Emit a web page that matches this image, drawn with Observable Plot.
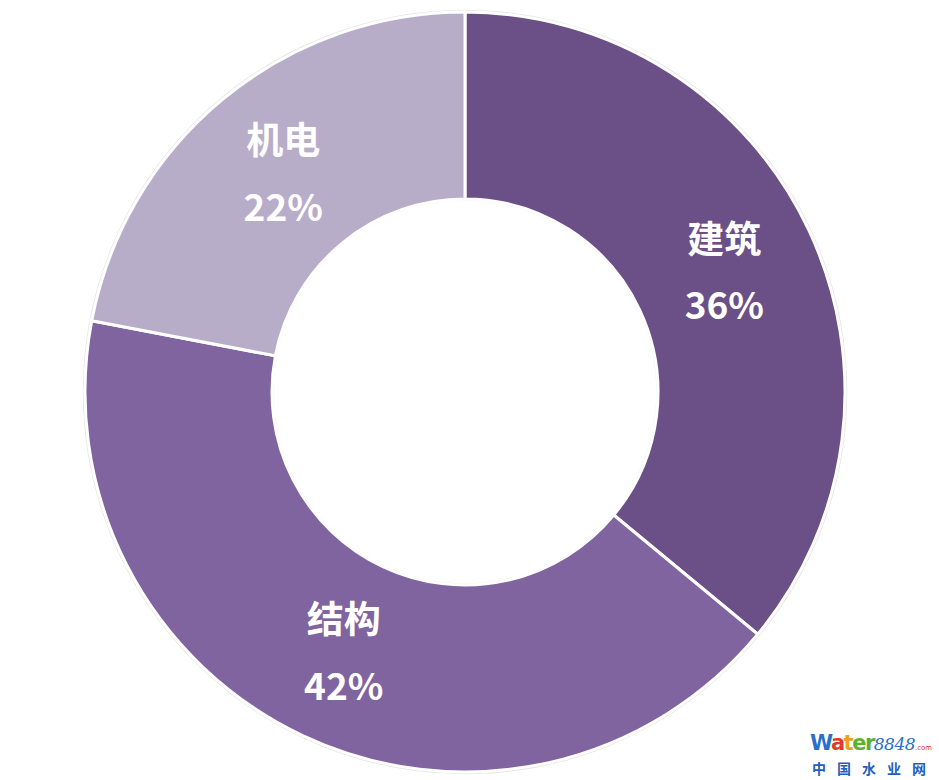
<!DOCTYPE html>
<html><head><meta charset="utf-8">
<script src="https://cdn.jsdelivr.net/npm/d3@7"></script>
<script src="https://cdn.jsdelivr.net/npm/@observablehq/plot@0.6"></script>
<style>
body{margin:0;background:#fff;}
#wrap{position:relative;width:939px;height:780px;}
#wm{position:absolute;left:810px;top:732px;font-family:"DejaVu Sans",sans-serif;}
#wm .l1{font-size:21px;font-weight:bold;line-height:22px;letter-spacing:-1.5px;white-space:nowrap}
#wm .n{font-family:"DejaVu Serif",serif;font-style:italic;font-weight:normal;color:#2a6fc9;font-size:17px;letter-spacing:-0.5px}
#wm .c{font-size:7px;color:#e03a2a;font-weight:normal;letter-spacing:0}
#wm .l2{font-family:"Noto Sans CJK SC",sans-serif;font-size:14px;color:#1f5fc0;letter-spacing:11px;line-height:18px;font-weight:bold;margin-left:2px}
</style></head>
<body><div id="wrap"><div id="chart"></div>
<div id="wm"><div class="l1"><span style="color:#2a6fc9">W</span><span style="color:#e03a2a">a</span><span style="color:#f0a020">t</span><span style="color:#5ab030">er</span><span class="n">8848</span><span class="c">.com</span></div><div class="l2">中国水业网</div></div>
</div>
<script>
const categories = ["建筑", "结构", "机电"];
const shares = [36, 42, 22];
const colors = ["#6a5087", "#7f64a0", "#b8adc9"];

const outerR = 380, innerR = 193;
const pie = d3.pie().sort(null).value(d => d.value);
const arcs = pie(categories.map((c, i) => ({name: c, value: shares[i], color: colors[i]})));
const arcGen = d3.arc().innerRadius(innerR).outerRadius(outerR);
const labelArc = d3.arc().innerRadius(286).outerRadius(286);
const labels = arcs.map(a => {
  const [cx, cy] = labelArc.centroid(a);
  return {x: cx, y: cy, text: a.data.name + "\n" + a.data.value + "%"};
});

const chart = Plot.plot({
  width: 939, height: 780,
  margin: 0,
  x: {domain: [-465, 474], range: [0, 939], axis: null},
  y: {domain: [-392, 388], range: [0, 780], axis: null},
  marks: [
    (index, scales, values, dims) => {
      const g = d3.create("svg:g");
      const cx = scales.x(0), cy = scales.y(0);
      g.append("circle").attr("cx", cx).attr("cy", cy).attr("r", outerR + 1.5)
        .attr("fill", "none").attr("stroke", "#e6e6e6").attr("stroke-width", 1.5);
      g.append("circle").attr("cx", cx).attr("cy", cy).attr("r", innerR - 1)
        .attr("fill", "none").attr("stroke", "#ececec").attr("stroke-width", 1);
      g.selectAll("path").data(arcs).join("path")
        .attr("transform", `translate(${cx},${cy})`)
        .attr("d", arcGen)
        .attr("fill", d => d.data.color)
        .attr("stroke", "#fff").attr("stroke-width", 3).attr("stroke-linejoin", "round");
      return g.node();
    },
    Plot.text(labels, {x: "x", y: "y", text: "text", fill: "#fff", fontSize: 37, fontWeight: "bold",
      lineHeight: 1.8, dy: -6, fontFamily: "'Noto Sans CJK SC', 'Open Sans', sans-serif"})
  ]
});
document.getElementById("chart").appendChild(chart);
</script></body></html>
